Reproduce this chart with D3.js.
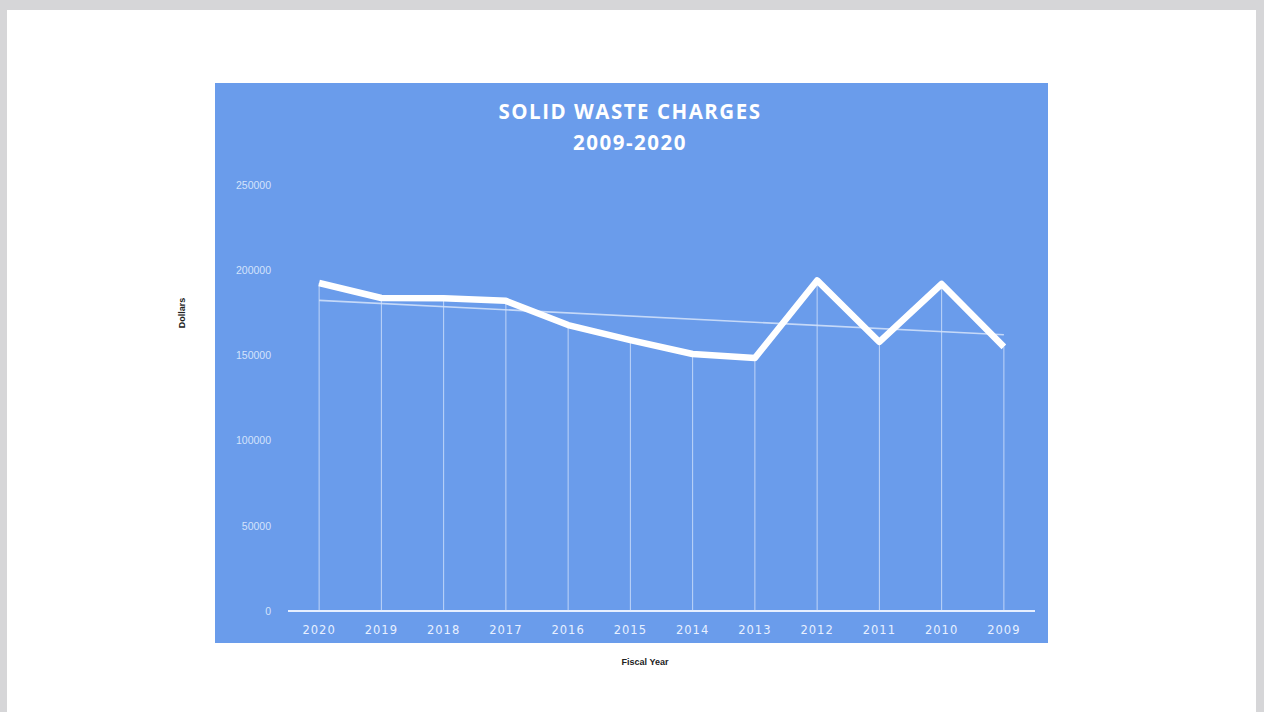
<!DOCTYPE html>
<html>
<head>
<meta charset="utf-8">
<script src="https://cdn.jsdelivr.net/npm/d3@7/dist/d3.min.js"></script>
<style>
  html, body { margin: 0; padding: 0; background: #d6d6d8; }
  svg { display: block; }
</style>
</head>
<body>
<svg id="chart" width="1264" height="712"></svg>
<script>
// Fiscal years, newest first, as shown on the axis
const years = ["2020","2019","2018","2017","2016","2015","2014","2013","2012","2011","2010","2009"];
// Solid waste charges in dollars
const charges = [192500, 183700, 183500, 182000, 167800, 159000, 150800, 148500, 194000, 157900, 191900, 155000];
const yTicks = [0, 50000, 100000, 150000, 200000, 250000];

const svg = d3.select("#chart");

// page sheet
svg.append("rect").attr("x", 7).attr("y", 10).attr("width", 1249).attr("height", 710).attr("fill", "#ffffff");

// chart panel
const panel = { x: 215, y: 83, w: 833, h: 560 };
svg.append("rect")
  .attr("x", panel.x).attr("y", panel.y).attr("width", panel.w).attr("height", panel.h)
  .attr("fill", "#6a9ceb");

const x = d3.scaleBand().domain(years).range([288, 1035]);
const y = d3.scaleLinear().domain([0, 250000]).range([611, 185]);
const cx = d => x(d) + x.bandwidth() / 2;

// title
const title = svg.append("text")
  .attr("x", 630).attr("y", 119)
  .attr("text-anchor", "middle")
  .attr("font-family", "Open Sans, sans-serif")
  .attr("font-weight", "bold").attr("font-size", 20.5)
  .attr("fill", "#ffffff").attr("letter-spacing", 1.5);
title.append("tspan").attr("x", 630).text("SOLID WASTE CHARGES");
title.append("tspan").attr("x", 630).attr("dy", 31).text("2009-2020");

// y axis labels
const yAxis = d3.axisLeft(y).tickValues(yTicks).tickSize(0).tickPadding(0).tickFormat(d3.format("d"));
const gy = svg.append("g").attr("transform", "translate(271,0)").call(yAxis);
gy.select(".domain").remove();
gy.selectAll("text")
  .attr("font-family", "Liberation Sans, sans-serif").attr("font-size", 10.5)
  .attr("fill", "#d4e3fb");

// baseline
svg.append("line")
  .attr("x1", 288).attr("x2", 1035).attr("y1", y(0)).attr("y2", y(0))
  .attr("stroke", "#e6efff").attr("stroke-width", 2.2);

// x axis labels
const xAxis = d3.axisBottom(x).tickSize(0).tickPadding(0);
const gx = svg.append("g").attr("transform", "translate(0,626)").call(xAxis);
gx.select(".domain").remove();
gx.selectAll("text")
  .attr("font-family", "DejaVu Sans, sans-serif").attr("font-size", 11.5)
  .attr("letter-spacing", 1)
  .attr("fill", "#e8f0ff");

// drop lines from each point to the baseline
svg.append("g").selectAll("line")
  .data(years)
  .join("line")
  .attr("x1", d => cx(d)).attr("x2", d => cx(d))
  .attr("y1", (d, i) => y(charges[i])).attr("y2", y(0))
  .attr("stroke", "#e4eeff").attr("stroke-width", 1).attr("opacity", 0.7);

// least-squares trend line
const n = charges.length;
const meanI = (n - 1) / 2;
const meanV = d3.mean(charges);
const slope = d3.sum(charges, (v, i) => (i - meanI) * (v - meanV)) /
              d3.sum(charges, (v, i) => (i - meanI) * (i - meanI));
const trendAt = i => meanV + slope * (i - meanI);
svg.append("line")
  .attr("x1", cx(years[0])).attr("y1", y(trendAt(0)))
  .attr("x2", cx(years[n - 1])).attr("y2", y(trendAt(n - 1)))
  .attr("stroke", "#d6e4fb").attr("stroke-width", 1.6).attr("opacity", 0.85);

// main series
const line = d3.line()
  .x((v, i) => cx(years[i]))
  .y(v => y(v));
svg.append("path")
  .datum(charges)
  .attr("d", line)
  .attr("fill", "none")
  .attr("stroke", "#ffffff").attr("stroke-width", 6.5)
  .attr("stroke-linejoin", "round");

// axis titles
svg.append("text")
  .attr("transform", "translate(185,313) rotate(-90)")
  .attr("text-anchor", "middle")
  .attr("font-family", "Liberation Sans, sans-serif").attr("font-weight", "bold").attr("font-size", 9)
  .attr("fill", "#222").text("Dollars");
svg.append("text")
  .attr("x", 645).attr("y", 665)
  .attr("text-anchor", "middle")
  .attr("font-family", "Liberation Sans, sans-serif").attr("font-weight", "bold").attr("font-size", 9)
  .attr("fill", "#222").text("Fiscal Year");
</script>
</body>
</html>
